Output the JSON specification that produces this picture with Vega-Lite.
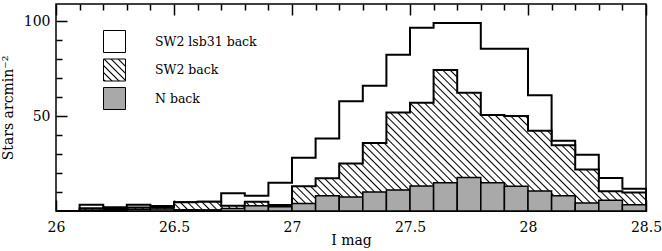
{
  "$schema": "https://vega.github.io/schema/vega-lite/v6.json",
  "width": 590,
  "height": 207,
  "autosize": "none",
  "padding": {"left": 56, "top": 4, "right": 16, "bottom": 40},
  "background": "white",
  "config": {
    "font": "DejaVu Serif",
    "style": {"guide-label": {"font": "DejaVu Serif"}, "guide-title": {"font": "DejaVu Serif"}},
    "view": {"stroke": "black", "strokeWidth": 1.5},
    "axis": {"domain": false, "grid": false, "tickColor": "black", "tickWidth": 1.5, "labelFont": "DejaVu Serif", "labelFontSize": 14, "labelColor": "black", "titleFont": "DejaVu Serif", "titleFontSize": 14, "titleFontWeight": "normal", "titleColor": "black"}
  },
  "data": {"values": [
    {"x0": 26.0, "x1": 26.1, "a": 0, "b": 0, "c": 0},
    {"x0": 26.1, "x1": 26.2, "a": 3.3, "b": 1.4, "c": 0.5},
    {"x0": 26.2, "x1": 26.3, "a": 2.0, "b": 1.5, "c": 0.8},
    {"x0": 26.3, "x1": 26.4, "a": 3.3, "b": 1.9, "c": 0.9},
    {"x0": 26.4, "x1": 26.5, "a": 2.6, "b": 1.8, "c": 1.0},
    {"x0": 26.5, "x1": 26.6, "a": 4.6, "b": 4.6, "c": 0.6},
    {"x0": 26.6, "x1": 26.7, "a": 4.9, "b": 4.9, "c": 0.6},
    {"x0": 26.7, "x1": 26.8, "a": 9.3, "b": 2.8, "c": 1.3},
    {"x0": 26.8, "x1": 26.9, "a": 8.0, "b": 4.9, "c": 2.8},
    {"x0": 26.9, "x1": 27.0, "a": 14.9, "b": 3.2, "c": 2.3},
    {"x0": 27.0, "x1": 27.1, "a": 28.1, "b": 13.0, "c": 4.0},
    {"x0": 27.1, "x1": 27.2, "a": 38.2, "b": 17.3, "c": 8.0},
    {"x0": 27.2, "x1": 27.3, "a": 57.8, "b": 25.0, "c": 7.4},
    {"x0": 27.3, "x1": 27.4, "a": 66.0, "b": 35.8, "c": 10.0},
    {"x0": 27.4, "x1": 27.5, "a": 82.3, "b": 51.9, "c": 11.1},
    {"x0": 27.5, "x1": 27.6, "a": 96.5, "b": 57.0, "c": 13.2},
    {"x0": 27.6, "x1": 27.7, "a": 99.0, "b": 74.2, "c": 14.9},
    {"x0": 27.7, "x1": 27.8, "a": 99.0, "b": 62.3, "c": 17.7},
    {"x0": 27.8, "x1": 27.9, "a": 85.4, "b": 50.5, "c": 14.9},
    {"x0": 27.9, "x1": 28.0, "a": 85.4, "b": 50.0, "c": 13.0},
    {"x0": 28.0, "x1": 28.1, "a": 60.9, "b": 42.3, "c": 10.5},
    {"x0": 28.1, "x1": 28.2, "a": 37.0, "b": 34.6, "c": 8.0},
    {"x0": 28.2, "x1": 28.3, "a": 29.6, "b": 21.8, "c": 4.2},
    {"x0": 28.3, "x1": 28.4, "a": 17.4, "b": 10.4, "c": 5.6},
    {"x0": 28.4, "x1": 28.5, "a": 11.7, "b": 9.8, "c": 3.3}
  ]},
  "layer": [
    {
      "transform": [{"fold": ["x0", "x1"], "as": ["edge", "x"]}],
      "mark": {"type": "area", "interpolate": "linear", "stroke": "black", "strokeWidth": 2, "strokeJoin": "miter", "fillOpacity": 1},
      "encoding": {
        "x": {"field": "x", "type": "quantitative", "scale": {"domain": [26, 28.5], "nice": false, "zero": false},
          "axis": {"orient": "bottom", "title": "I mag", "values": [26,26.1,26.2,26.3,26.4,26.5,26.6,26.7,26.8,26.9,27,27.1,27.2,27.3,27.4,27.5,27.6,27.7,27.8,27.9,28,28.1,28.2,28.3,28.4,28.5],
            "labelExpr": "abs(datum.value*2 - round(datum.value*2)) < 0.001 ? '' + datum.value : ''",
            "labelFont": "DejaVu Serif", "labelFontSize": 14,
            "tickSize": {"condition": {"test": "abs(datum.value*2 - round(datum.value*2)) < 0.001", "value": -11}, "value": -6},
            "labelPadding": 20, "titlePadding": -6, "labelFlush": false, "labelOverlap": false}},
        "y": {"field": "a", "type": "quantitative", "stack": null, "scale": {"domain": [0, 109], "nice": false},
          "axis": {"title": "Stars arcmin⁻²", "titleFontSize": 14, "values": [10,20,30,40,50,60,70,80,90,100],
            "labelExpr": "datum.value % 50 === 0 ? '' + datum.value : ''",
            "labelFont": "DejaVu Serif", "labelFontSize": 14,
            "tickSize": {"condition": {"test": "datum.value % 50 === 0", "value": -11}, "value": -6},
            "labelPadding": 17, "titlePadding": 8, "labelOverlap": false}},
        "order": {"value": null},
        "color": {"datum": "SW2 lsb31 back", "type": "nominal", "scale": {"domain": ["SW2 lsb31 back", "SW2 back", "N back"], "range": ["white", {"expr": "{gradient: 'linear', x1: 0, y1: 1, x2: 1, y2: 0, stops: [{offset: 0, color: '#fff'}, {offset: 0.033, color: '#000'}, {offset: 0.066, color: '#fff'}, {offset: 0.16, color: '#fff'}, {offset: 0.193, color: '#000'}, {offset: 0.226, color: '#fff'}, {offset: 0.32, color: '#fff'}, {offset: 0.353, color: '#000'}, {offset: 0.386, color: '#fff'}, {offset: 0.48, color: '#fff'}, {offset: 0.513, color: '#000'}, {offset: 0.546, color: '#fff'}, {offset: 0.64, color: '#fff'}, {offset: 0.673, color: '#000'}, {offset: 0.706, color: '#fff'}, {offset: 0.8, color: '#fff'}, {offset: 0.833, color: '#000'}, {offset: 0.866, color: '#fff'}, {offset: 0.96, color: '#fff'}, {offset: 0.993, color: '#000'}, {offset: 1, color: '#888'}]}"}, "#a9a9a9"]},
          "legend": {"title": null, "orient": "none", "legendX": 47, "legendY": 26, "padding": 0, "symbolType": "square", "symbolSize": 484, "symbolStrokeColor": "black", "symbolStrokeWidth": 1, "symbolOpacity": 1, "labelFont": "DejaVu Serif", "labelFontSize": 12.5, "labelColor": "black", "labelOffset": 29, "rowPadding": 1.5}}
      }
    },
    {
      "transform": [{"fold": ["x0", "x1"], "as": ["edge", "x"]}],
      "mark": {"type": "area", "interpolate": "linear", "stroke": "black", "strokeWidth": 2, "strokeJoin": "miter", "fillOpacity": 1,
        "fill": {"gradient": "linear", "x1": 0, "y1": 1, "x2": 1.172, "y2": 0.72, "stops": [
{"offset":0,"color":"#fff"},{"offset":0.002,"color":"#000"},{"offset":0.004,"color":"#fff"},
{"offset":0.01,"color":"#fff"},{"offset":0.012,"color":"#000"},{"offset":0.014,"color":"#fff"},
{"offset":0.02,"color":"#fff"},{"offset":0.022,"color":"#000"},{"offset":0.024,"color":"#fff"},
{"offset":0.03,"color":"#fff"},{"offset":0.032,"color":"#000"},{"offset":0.034,"color":"#fff"},
{"offset":0.04,"color":"#fff"},{"offset":0.042,"color":"#000"},{"offset":0.044,"color":"#fff"},
{"offset":0.05,"color":"#fff"},{"offset":0.052,"color":"#000"},{"offset":0.054,"color":"#fff"},
{"offset":0.06,"color":"#fff"},{"offset":0.062,"color":"#000"},{"offset":0.064,"color":"#fff"},
{"offset":0.07,"color":"#fff"},{"offset":0.072,"color":"#000"},{"offset":0.074,"color":"#fff"},
{"offset":0.08,"color":"#fff"},{"offset":0.082,"color":"#000"},{"offset":0.084,"color":"#fff"},
{"offset":0.09,"color":"#fff"},{"offset":0.092,"color":"#000"},{"offset":0.094,"color":"#fff"},
{"offset":0.10,"color":"#fff"},{"offset":0.102,"color":"#000"},{"offset":0.104,"color":"#fff"},
{"offset":0.11,"color":"#fff"},{"offset":0.112,"color":"#000"},{"offset":0.114,"color":"#fff"},
{"offset":0.12,"color":"#fff"},{"offset":0.122,"color":"#000"},{"offset":0.124,"color":"#fff"},
{"offset":0.13,"color":"#fff"},{"offset":0.132,"color":"#000"},{"offset":0.134,"color":"#fff"},
{"offset":0.14,"color":"#fff"},{"offset":0.142,"color":"#000"},{"offset":0.144,"color":"#fff"},
{"offset":0.15,"color":"#fff"},{"offset":0.152,"color":"#000"},{"offset":0.154,"color":"#fff"},
{"offset":0.16,"color":"#fff"},{"offset":0.162,"color":"#000"},{"offset":0.164,"color":"#fff"},
{"offset":0.17,"color":"#fff"},{"offset":0.172,"color":"#000"},{"offset":0.174,"color":"#fff"},
{"offset":0.18,"color":"#fff"},{"offset":0.182,"color":"#000"},{"offset":0.184,"color":"#fff"},
{"offset":0.19,"color":"#fff"},{"offset":0.192,"color":"#000"},{"offset":0.194,"color":"#fff"},
{"offset":0.20,"color":"#fff"},{"offset":0.202,"color":"#000"},{"offset":0.204,"color":"#fff"},
{"offset":0.21,"color":"#fff"},{"offset":0.212,"color":"#000"},{"offset":0.214,"color":"#fff"},
{"offset":0.22,"color":"#fff"},{"offset":0.222,"color":"#000"},{"offset":0.224,"color":"#fff"},
{"offset":0.23,"color":"#fff"},{"offset":0.232,"color":"#000"},{"offset":0.234,"color":"#fff"},
{"offset":0.24,"color":"#fff"},{"offset":0.242,"color":"#000"},{"offset":0.244,"color":"#fff"},
{"offset":0.25,"color":"#fff"},{"offset":0.252,"color":"#000"},{"offset":0.254,"color":"#fff"},
{"offset":0.26,"color":"#fff"},{"offset":0.262,"color":"#000"},{"offset":0.264,"color":"#fff"},
{"offset":0.27,"color":"#fff"},{"offset":0.272,"color":"#000"},{"offset":0.274,"color":"#fff"},
{"offset":0.28,"color":"#fff"},{"offset":0.282,"color":"#000"},{"offset":0.284,"color":"#fff"},
{"offset":0.29,"color":"#fff"},{"offset":0.292,"color":"#000"},{"offset":0.294,"color":"#fff"},
{"offset":0.30,"color":"#fff"},{"offset":0.302,"color":"#000"},{"offset":0.304,"color":"#fff"},
{"offset":0.31,"color":"#fff"},{"offset":0.312,"color":"#000"},{"offset":0.314,"color":"#fff"},
{"offset":0.32,"color":"#fff"},{"offset":0.322,"color":"#000"},{"offset":0.324,"color":"#fff"},
{"offset":0.33,"color":"#fff"},{"offset":0.332,"color":"#000"},{"offset":0.334,"color":"#fff"},
{"offset":0.34,"color":"#fff"},{"offset":0.342,"color":"#000"},{"offset":0.344,"color":"#fff"},
{"offset":0.35,"color":"#fff"},{"offset":0.352,"color":"#000"},{"offset":0.354,"color":"#fff"},
{"offset":0.36,"color":"#fff"},{"offset":0.362,"color":"#000"},{"offset":0.364,"color":"#fff"},
{"offset":0.37,"color":"#fff"},{"offset":0.372,"color":"#000"},{"offset":0.374,"color":"#fff"},
{"offset":0.38,"color":"#fff"},{"offset":0.382,"color":"#000"},{"offset":0.384,"color":"#fff"},
{"offset":0.39,"color":"#fff"},{"offset":0.392,"color":"#000"},{"offset":0.394,"color":"#fff"},
{"offset":0.40,"color":"#fff"},{"offset":0.402,"color":"#000"},{"offset":0.404,"color":"#fff"},
{"offset":0.41,"color":"#fff"},{"offset":0.412,"color":"#000"},{"offset":0.414,"color":"#fff"},
{"offset":0.42,"color":"#fff"},{"offset":0.422,"color":"#000"},{"offset":0.424,"color":"#fff"},
{"offset":0.43,"color":"#fff"},{"offset":0.432,"color":"#000"},{"offset":0.434,"color":"#fff"},
{"offset":0.44,"color":"#fff"},{"offset":0.442,"color":"#000"},{"offset":0.444,"color":"#fff"},
{"offset":0.45,"color":"#fff"},{"offset":0.452,"color":"#000"},{"offset":0.454,"color":"#fff"},
{"offset":0.46,"color":"#fff"},{"offset":0.462,"color":"#000"},{"offset":0.464,"color":"#fff"},
{"offset":0.47,"color":"#fff"},{"offset":0.472,"color":"#000"},{"offset":0.474,"color":"#fff"},
{"offset":0.48,"color":"#fff"},{"offset":0.482,"color":"#000"},{"offset":0.484,"color":"#fff"},
{"offset":0.49,"color":"#fff"},{"offset":0.492,"color":"#000"},{"offset":0.494,"color":"#fff"},
{"offset":0.50,"color":"#fff"},{"offset":0.502,"color":"#000"},{"offset":0.504,"color":"#fff"},
{"offset":0.51,"color":"#fff"},{"offset":0.512,"color":"#000"},{"offset":0.514,"color":"#fff"},
{"offset":0.52,"color":"#fff"},{"offset":0.522,"color":"#000"},{"offset":0.524,"color":"#fff"},
{"offset":0.53,"color":"#fff"},{"offset":0.532,"color":"#000"},{"offset":0.534,"color":"#fff"},
{"offset":0.54,"color":"#fff"},{"offset":0.542,"color":"#000"},{"offset":0.544,"color":"#fff"},
{"offset":0.55,"color":"#fff"},{"offset":0.552,"color":"#000"},{"offset":0.554,"color":"#fff"},
{"offset":0.56,"color":"#fff"},{"offset":0.562,"color":"#000"},{"offset":0.564,"color":"#fff"},
{"offset":0.57,"color":"#fff"},{"offset":0.572,"color":"#000"},{"offset":0.574,"color":"#fff"},
{"offset":0.58,"color":"#fff"},{"offset":0.582,"color":"#000"},{"offset":0.584,"color":"#fff"},
{"offset":0.59,"color":"#fff"},{"offset":0.592,"color":"#000"},{"offset":0.594,"color":"#fff"},
{"offset":0.60,"color":"#fff"},{"offset":0.602,"color":"#000"},{"offset":0.604,"color":"#fff"},
{"offset":0.61,"color":"#fff"},{"offset":0.612,"color":"#000"},{"offset":0.614,"color":"#fff"},
{"offset":0.62,"color":"#fff"},{"offset":0.622,"color":"#000"},{"offset":0.624,"color":"#fff"},
{"offset":0.63,"color":"#fff"},{"offset":0.632,"color":"#000"},{"offset":0.634,"color":"#fff"},
{"offset":0.64,"color":"#fff"},{"offset":0.642,"color":"#000"},{"offset":0.644,"color":"#fff"},
{"offset":0.65,"color":"#fff"},{"offset":0.652,"color":"#000"},{"offset":0.654,"color":"#fff"},
{"offset":0.66,"color":"#fff"},{"offset":0.662,"color":"#000"},{"offset":0.664,"color":"#fff"},
{"offset":0.67,"color":"#fff"},{"offset":0.672,"color":"#000"},{"offset":0.674,"color":"#fff"},
{"offset":0.68,"color":"#fff"},{"offset":0.682,"color":"#000"},{"offset":0.684,"color":"#fff"},
{"offset":0.69,"color":"#fff"},{"offset":0.692,"color":"#000"},{"offset":0.694,"color":"#fff"},
{"offset":0.70,"color":"#fff"},{"offset":0.702,"color":"#000"},{"offset":0.704,"color":"#fff"},
{"offset":0.71,"color":"#fff"},{"offset":0.712,"color":"#000"},{"offset":0.714,"color":"#fff"},
{"offset":0.72,"color":"#fff"},{"offset":0.722,"color":"#000"},{"offset":0.724,"color":"#fff"},
{"offset":0.73,"color":"#fff"},{"offset":0.732,"color":"#000"},{"offset":0.734,"color":"#fff"},
{"offset":0.74,"color":"#fff"},{"offset":0.742,"color":"#000"},{"offset":0.744,"color":"#fff"},
{"offset":0.75,"color":"#fff"},{"offset":0.752,"color":"#000"},{"offset":0.754,"color":"#fff"},
{"offset":0.76,"color":"#fff"},{"offset":0.762,"color":"#000"},{"offset":0.764,"color":"#fff"},
{"offset":0.77,"color":"#fff"},{"offset":0.772,"color":"#000"},{"offset":0.774,"color":"#fff"},
{"offset":0.78,"color":"#fff"},{"offset":0.782,"color":"#000"},{"offset":0.784,"color":"#fff"},
{"offset":0.79,"color":"#fff"},{"offset":0.792,"color":"#000"},{"offset":0.794,"color":"#fff"},
{"offset":0.80,"color":"#fff"},{"offset":0.802,"color":"#000"},{"offset":0.804,"color":"#fff"},
{"offset":0.81,"color":"#fff"},{"offset":0.812,"color":"#000"},{"offset":0.814,"color":"#fff"},
{"offset":0.82,"color":"#fff"},{"offset":0.822,"color":"#000"},{"offset":0.824,"color":"#fff"},
{"offset":0.83,"color":"#fff"},{"offset":0.832,"color":"#000"},{"offset":0.834,"color":"#fff"},
{"offset":0.84,"color":"#fff"},{"offset":0.842,"color":"#000"},{"offset":0.844,"color":"#fff"},
{"offset":0.85,"color":"#fff"},{"offset":0.852,"color":"#000"},{"offset":0.854,"color":"#fff"},
{"offset":0.86,"color":"#fff"},{"offset":0.862,"color":"#000"},{"offset":0.864,"color":"#fff"},
{"offset":0.87,"color":"#fff"},{"offset":0.872,"color":"#000"},{"offset":0.874,"color":"#fff"},
{"offset":0.88,"color":"#fff"},{"offset":0.882,"color":"#000"},{"offset":0.884,"color":"#fff"},
{"offset":0.89,"color":"#fff"},{"offset":0.892,"color":"#000"},{"offset":0.894,"color":"#fff"},
{"offset":0.90,"color":"#fff"},{"offset":0.902,"color":"#000"},{"offset":0.904,"color":"#fff"},
{"offset":0.91,"color":"#fff"},{"offset":0.912,"color":"#000"},{"offset":0.914,"color":"#fff"},
{"offset":0.92,"color":"#fff"},{"offset":0.922,"color":"#000"},{"offset":0.924,"color":"#fff"},
{"offset":0.93,"color":"#fff"},{"offset":0.932,"color":"#000"},{"offset":0.934,"color":"#fff"},
{"offset":0.94,"color":"#fff"},{"offset":0.942,"color":"#000"},{"offset":0.944,"color":"#fff"},
{"offset":0.95,"color":"#fff"},{"offset":0.952,"color":"#000"},{"offset":0.954,"color":"#fff"},
{"offset":0.96,"color":"#fff"},{"offset":0.962,"color":"#000"},{"offset":0.964,"color":"#fff"},
{"offset":0.97,"color":"#fff"},{"offset":0.972,"color":"#000"},{"offset":0.974,"color":"#fff"},
{"offset":0.98,"color":"#fff"},{"offset":0.982,"color":"#000"},{"offset":0.984,"color":"#fff"},
{"offset":0.99,"color":"#fff"},{"offset":0.992,"color":"#000"},{"offset":0.994,"color":"#fff"},
{"offset":1,"color":"#fff"}
        ]}},
      "encoding": {
        "x": {"field": "x", "type": "quantitative",
          "axis": {"orient": "top", "title": null, "values": [26,26.1,26.2,26.3,26.4,26.5,26.6,26.7,26.8,26.9,27,27.1,27.2,27.3,27.4,27.5,27.6,27.7,27.8,27.9,28,28.1,28.2,28.3,28.4,28.5],
            "labels": false,
            "tickSize": {"condition": {"test": "abs(datum.value*2 - round(datum.value*2)) < 0.001", "value": -11}, "value": -6}}},
        "y": {"field": "b", "type": "quantitative", "stack": null,
          "axis": {"title": "Stars arcmin⁻²", "titleFontSize": 14, "values": [10,20,30,40,50,60,70,80,90,100],
            "labelExpr": "datum.value % 50 === 0 ? '' + datum.value : ''",
            "labelFont": "DejaVu Serif", "labelFontSize": 14,
            "tickSize": {"condition": {"test": "datum.value % 50 === 0", "value": -11}, "value": -6},
            "labelPadding": 17, "titlePadding": 8, "labelOverlap": false}},
        "order": {"value": null}
      }
    },
    {
      "mark": {"type": "rect", "stroke": "black", "strokeWidth": 1.5, "fillOpacity": 1},
      "encoding": {
        "x": {"field": "x0", "type": "quantitative", "axis": null},
        "x2": {"field": "x1"},
        "y": {"field": "c", "type": "quantitative",
          "axis": {"title": "Stars arcmin⁻²", "titleFontSize": 14, "values": [10,20,30,40,50,60,70,80,90,100],
            "labelExpr": "datum.value % 50 === 0 ? '' + datum.value : ''",
            "labelFont": "DejaVu Serif", "labelFontSize": 14,
            "tickSize": {"condition": {"test": "datum.value % 50 === 0", "value": -11}, "value": -6},
            "labelPadding": 17, "titlePadding": 8, "labelOverlap": false}},
        "y2": {"datum": 0},
        "color": {"datum": "N back", "type": "nominal"}
      }
    }
  ],
  "resolve": {"axis": {"x": "independent"}}
}
